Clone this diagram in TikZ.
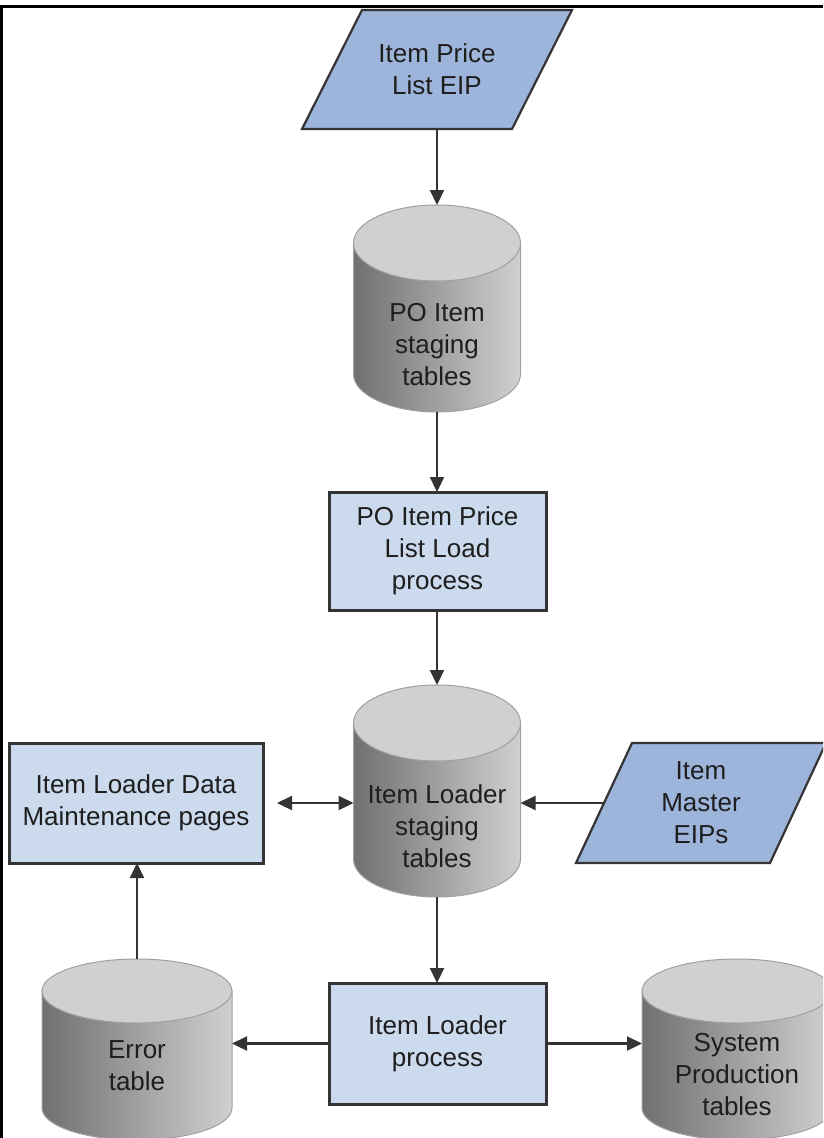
\documentclass[tikz,border=0pt]{standalone}
\usepackage{fontspec}
\setmainfont{Liberation Sans}
\usetikzlibrary{arrows.meta,backgrounds,calc}
\definecolor{paraFill}{RGB}{157,180,219}
\definecolor{boxFill}{RGB}{204,218,237}
\definecolor{edge}{RGB}{52,52,52}
\definecolor{cylTop}{RGB}{208,208,208}
\definecolor{cylL}{RGB}{112,112,112}
\definecolor{cylR}{RGB}{208,208,208}
\definecolor{cylLine}{RGB}{160,160,160}
\definecolor{ink}{RGB}{30,30,30}

\tikzset{
 lbl/.style={font=\fontsize{26}{32}\selectfont, text=ink, align=center, inner sep=0pt},
 procbox/.style={lbl, draw=edge, fill=boxFill, line width=3pt, outer sep=0pt},
 anchorbox/.style={lbl, outer sep=0pt, draw=none},
 para/.style={draw=edge, fill=paraFill, line width=2.2pt, line join=miter},
 tip/.tip={Triangle[length=15pt,width=14pt]},
 flow/.style={draw=edge, line width=2.2pt, -tip},
 flowtwo/.style={draw=edge, line width=2.2pt, tip-tip},
}

\newcommand\drawpara[2]{%
 \draw[para] ([xshift=#2pt]#1.north west) -- ([xshift=#2pt]#1.north east) -- ([xshift=-#2pt]#1.south east) -- ([xshift=-#2pt]#1.south west) -- cycle;}

\newcommand\drawcyl[2]{%
 \path[left color=cylL, right color=cylR, draw=cylLine, line width=1pt]
   let \p1=(#1.north west), \p2=(#1.south east) in
   (\x1,{\y1-#2pt}) -- (\x1,{\y2+#2pt}) arc[start angle=180, end angle=360, x radius={(\x2-\x1)/2}, y radius=#2pt] -- (\x2,{\y1-#2pt}) -- cycle;
 \path[fill=cylTop, draw=cylLine, line width=1pt]
   let \p1=(#1.north west), \p2=(#1.south east) in
   ({(\x1+\x2)/2},{\y1-#2pt}) ellipse[x radius={(\x2-\x1)/2}, y radius=#2pt];}

\begin{document}
\begin{tikzpicture}[x=1pt,y=1pt]
\useasboundingbox (0,0) rectangle (823,-1138);

% input parallelograms (named areas)
\node[anchorbox, minimum width=210pt, minimum height=119pt] (eip) at (437,-69.5) {Item Price\\List EIP};
\node[anchorbox, minimum width=194pt, minimum height=120pt] (master) at (701,-803) {Item\\Master\\EIPs};

% cylinders (named areas) and their labels
\node[anchorbox, minimum width=167pt, minimum height=207pt] (poStg) at (437,-308.5) {};
\node[lbl] (poStgT) at (437,-345) {PO Item\\staging\\tables};
\node[anchorbox, minimum width=167pt, minimum height=212pt] (ilStg) at (437,-791) {};
\node[lbl] (ilStgT) at (437,-826) {Item Loader\\staging\\tables};
\node[anchorbox, minimum width=190pt, minimum height=181pt] (err) at (137,-1049.5) {};
\node[lbl] (errT) at (137,-1066) {Error\\table};
\node[anchorbox, minimum width=190pt, minimum height=181pt] (sys) at (737,-1049.5) {};
\node[lbl] (sysT) at (737,-1075) {System\\Production\\tables};

% process boxes
\node[procbox, minimum width=217pt, minimum height=118pt] (poLoad) at (437.5,-551) {PO Item Price\\List Load\\process};
\node[procbox, minimum width=254pt, minimum height=120pt] (maint) at (136,-803) {Item Loader Data\\Maintenance pages};
\node[procbox, minimum width=217pt, minimum height=121pt] (ilProc) at (437.5,-1043.5) {Item Loader\\process};

\begin{scope}[on background layer]
 \clip (0,0) rectangle (823,-1138);
 \fill[white] (0,0) rectangle (823,-1138);
 \drawpara{eip}{30}
 \drawpara{master}{28}
 \drawcyl{poStg}{38}
 \drawcyl{ilStg}{38}
 \drawcyl{err}{32}
 \drawcyl{sys}{32}
\end{scope}

% connectors
\draw[flow] (eip.south) -- (poStg.north);
\draw[flow] (poStg.south) -- (poStg.south |- poLoad.north);
\draw[flow] (ilStg.north |- poLoad.south) -- (ilStg.north);
\draw[flowtwo, shorten <=14pt] (maint.east) -- (maint.east -| ilStg.west);
\draw[flow] (master.west) -- (master.west -| ilStg.east);
\draw[flow] (ilStg.south) -- (ilStg.south |- ilProc.north);
\draw[flow] (ilProc.west) -- (ilProc.west -| err.east);
\draw[flow] (ilProc.east) -- (ilProc.east -| sys.west);
\draw[flow] (err.north) -- (err.north |- maint.south);

% frame
\draw[line width=3pt, black] (1.5,-1138) -- (1.5,-6) -- (823,-6);
\end{tikzpicture}
\end{document}
